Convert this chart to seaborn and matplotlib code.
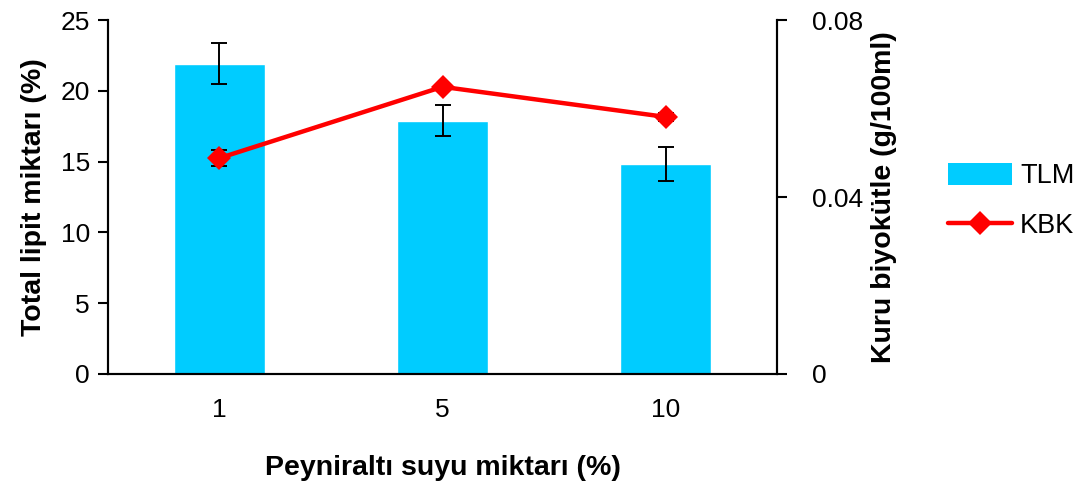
import pandas as pd
import matplotlib.pyplot as plt
import seaborn as sns
import numpy as np
from matplotlib.patches import Patch
from matplotlib.lines import Line2D

sns.set_style("white")
plt.rcParams['font.family'] = ['Liberation Sans', 'DejaVu Sans']
plt.rcParams['text.color'] = 'black'
plt.rcParams['axes.labelcolor'] = 'black'
plt.rcParams['xtick.color'] = 'black'
plt.rcParams['ytick.color'] = 'black'

# data
kategoriler = ['1', '5', '10']
tlm = [21.9, 17.9, 14.8]
tlm_hata = [1.45, 1.1, 1.2]
kbk = [0.0488, 0.0649, 0.0581]
kbk_hata = [0.0018, 0.0006, 0.0009]

df = pd.DataFrame({'kat': kategoriler, 'tlm': tlm, 'kbk': kbk})
df['poz'] = np.arange(len(kategoriler))

fig = plt.figure(figsize=(10.83, 4.86), dpi=100)
ax = fig.add_axes([0.0997, 0.2305, 0.6178, 0.7283])

sns.barplot(data=df, x='kat', y='tlm', color='#00CCFF', saturation=1,
            width=0.41, errorbar=None, ax=ax)
ax.errorbar(df['poz'], df['tlm'], yerr=tlm_hata, fmt='none', ecolor='black',
            elinewidth=1.4, capsize=6, capthick=1.4, zorder=3)

ax2 = ax.twinx()
ax2.errorbar(df['poz'], df['kbk'], yerr=kbk_hata, fmt='none', ecolor='black',
             elinewidth=1.4, capsize=6, capthick=1.4, zorder=2)
sns.lineplot(data=df, x='poz', y='kbk', color='#FF0000', linewidth=3.2,
             marker='D', markersize=12, markeredgewidth=0, ax=ax2, zorder=4)

ax.set_xlim(-0.5, 2.5)
ax.set_ylim(0, 25)
ax.set_yticks([0, 5, 10, 15, 20, 25])
ax2.set_ylim(0, 0.08)
ax2.set_yticks([0, 0.04, 0.08])
ax2.set_yticklabels(['0', '0.04', '0.08'])

for a in (ax, ax2):
    a.spines['top'].set_visible(False)
    for s in a.spines.values():
        s.set_color('black')
        s.set_linewidth(1.5)
    a.grid(False)

ax.tick_params(axis='y', direction='out', length=7, width=1.5, labelsize=19, pad=6, left=True)
ax.tick_params(axis='x', length=0, labelsize=19, pad=17)
ax2.tick_params(axis='y', direction='out', length=7, width=1.5, labelsize=19, pad=18, right=True)

ax.set_xlabel('Peyniraltı suyu miktarı (%)', fontsize=20.5, fontweight='bold', labelpad=24)
ax.set_ylabel('Total lipit miktarı (%)', fontsize=20.5, fontweight='bold', labelpad=10)
ax2.set_ylabel('Kuru biyokütle (g/100ml)', fontsize=20.5, fontweight='bold', labelpad=6)

handles = [Patch(facecolor='#00CCFF', edgecolor='none'),
           Line2D([0], [0], color='#FF0000', linewidth=3.2, marker='D',
                  markersize=12, markeredgewidth=0)]
fig.legend(handles, ['TLM', 'KBK'], loc='center left', bbox_to_anchor=(0.853, 0.587),
           frameon=False, fontsize=19.5, handlelength=2.35, handleheight=0.9,
           labelspacing=0.85, handletextpad=0.3)

plt.savefig('out.png', dpi=100)
